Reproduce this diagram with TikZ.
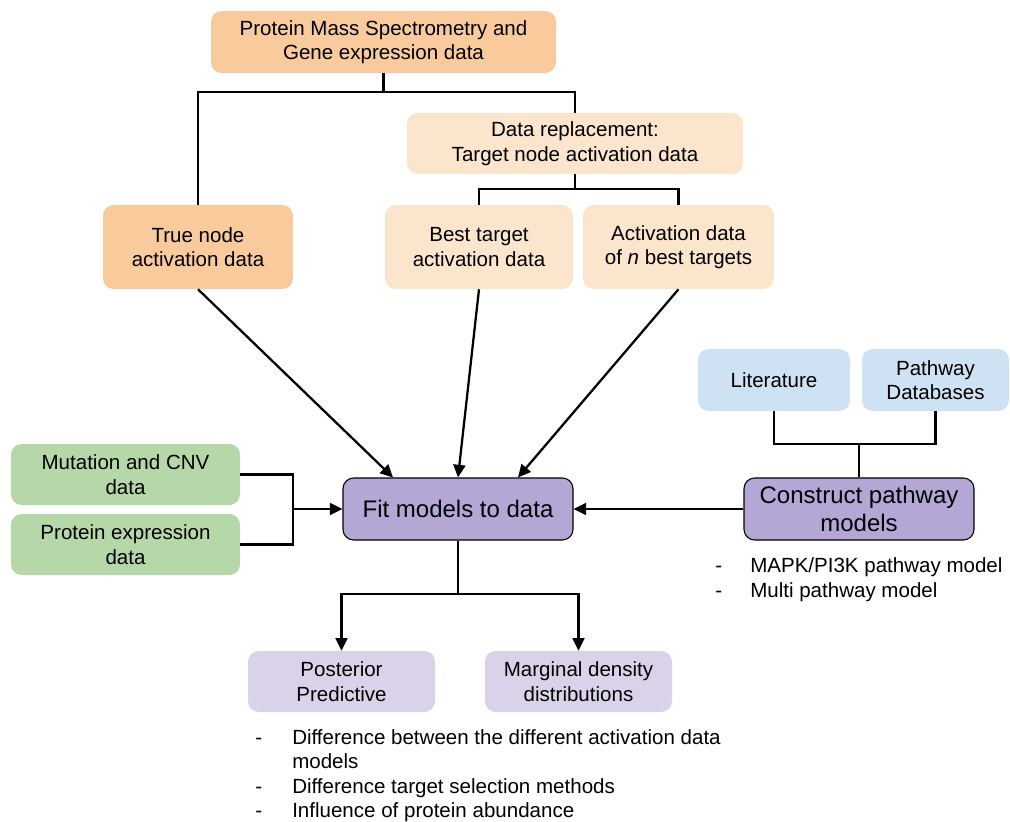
\documentclass[tikz,border=0pt]{standalone}
\usepackage{fontspec}
\setmainfont{Liberation Sans}
\usetikzlibrary{arrows.meta}

\definecolor{orangeA}{HTML}{F9CB9C}
\definecolor{orangeB}{HTML}{FCE5CD}
\definecolor{blueB}{HTML}{CFE2F3}
\definecolor{greenA}{HTML}{B6D7A8}
\definecolor{purpleA}{HTML}{B4A7D6}
\definecolor{purpleB}{HTML}{D9D2E9}

\tikzset{
  box/.style 2 args={rounded corners=8pt, inner sep=0pt, align=center,
    minimum width=#1*0.75pt, minimum height=#2*0.75pt,
    font=\fontsize{15.4}{18.4}\selectfont},
  bigbox/.style 2 args={box={#1}{#2}, draw=black, line width=0.8pt,
    font=\fontsize{18}{21}\selectfont},
  ln/.style={line width=1.7pt, line join=miter},
  arr/.style={ln, -{Triangle[length=9.5pt,width=9pt]}},
  note/.style={anchor=base west, inner sep=0pt, font=\fontsize{15.4}{18.4}\selectfont},
}

\begin{document}
\begin{tikzpicture}[x=0.75pt, y=-0.75pt]
\useasboundingbox (0,0) rectangle (1010,821);

% data sources
\node[box={345}{62}, fill=orangeA] (top) at (383.5,42) {Protein Mass Spectrometry and\\Gene expression data};
\node[box={336}{61}, fill=orangeB] (rep) at (575,143.5) {Data replacement:\\Target node activation data};
\node[box={190}{84}, fill=orangeA] (true) at (198,247) {True node\\activation data};
\node[box={188}{84}, fill=orangeB] (best) at (479,247) {Best target\\activation data};
\node[box={191}{84}, fill=orangeB] (actn) at (678.5,247) {Activation data\\of \textit{n} best targets};

\node[box={152}{62}, fill=blueB] (lit) at (774,380) {Literature};
\node[box={147}{62}, fill=blueB] (pdb) at (935.5,380) {Pathway\\Databases};

\node[box={229}{61}, fill=greenA] (mut) at (125.5,474.5) {Mutation and CNV\\data};
\node[box={229}{61}, fill=greenA] (pexp) at (125.5,544.5) {Protein expression\\data};

% modelling steps
\node[bigbox={230}{62}, fill=purpleA] (fit) at (458,509) {Fit models to data};
\node[bigbox={230}{62}, fill=purpleA] (cons) at (859,509) {Construct pathway\\models};

\node[box={187}{61}, fill=purpleB] (post) at (341.5,681.5) {Posterior\\Predictive};
\node[box={187}{61}, fill=purpleB] (marg) at (578.5,681.5) {Marginal density\\distributions};

% junction points
\coordinate (j1) at (383.5,92);
\coordinate (j2) at (575,189);
\coordinate (j3) at (293,509);
\coordinate (j4) at (859,444);
\coordinate (j5) at (458,594);

% connectors
\draw[ln] (top.south) -- (j1);
\draw[ln] (true.north) |- (j1) -| (rep.north);
\draw[ln] (rep.south) -- (j2);
\draw[ln] (best.north) |- (j2) -| (actn.north);

\draw[arr] (true.south) -- ([xshift=-48.75pt]fit.north);
\draw[arr] (best.south) -- (fit.north);
\draw[arr] (actn.south) -- ([xshift=45pt]fit.north);

\draw[ln] (mut.east) -| (j3);
\draw[ln] (pexp.east) -| (j3);
\draw[arr] (j3) -- (fit.west);

\draw[ln] (lit.south) |- (j4) -| (pdb.south);
\draw[ln] (j4) -- (cons.north);
\draw[arr] (cons.west) -- (fit.east);

\draw[ln] (fit.south) -- (j5);
\draw[arr] (j5) -| (post.north);
\draw[arr] (j5) -| (marg.north);

% notes
\node[note] (d1) at (715,572) {-};
\node[note] (n1) at (750,572) {MAPK/PI3K pathway model};
\node[note] (d2) at (715,597) {-};
\node[note] (n2) at (750,597) {Multi pathway model};

\node[note] (d3) at (255,744) {-};
\node[note] (n3) at (292,744) {Difference between the different activation data};
\node[note] (n3b) at (292,768.5) {models};
\node[note] (d4) at (255,793) {-};
\node[note] (n4) at (292,793) {Difference target selection methods};
\node[note] (d5) at (255,817) {-};
\node[note] (n5) at (292,817) {Influence of protein abundance};
\end{tikzpicture}
\end{document}
